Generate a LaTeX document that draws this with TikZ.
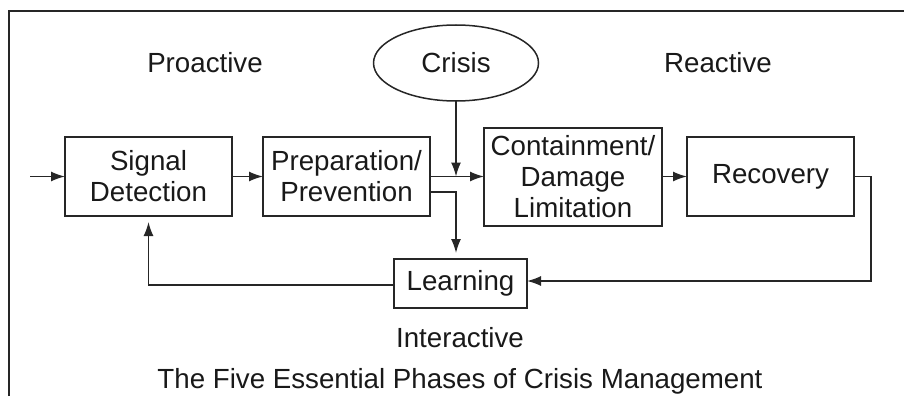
\documentclass[tikz,border=0pt]{standalone}
\usepackage{fontspec}
\setmainfont{Liberation Sans}
\usetikzlibrary{arrows.meta,shapes.geometric,calc}
\begin{document}
\begin{tikzpicture}[x=1pt,y=-1pt,
  line width=1.5pt, draw=black!85,
  every node/.style={font=\fontsize{27.7}{31}\selectfont, text=black!90, inner sep=0pt, outer sep=0pt},
  phase/.style={draw, rectangle, align=center, minimum width=167pt, minimum height=79pt},
  arr/.style={-{Latex[length=14pt,width=10pt]}},
  lbl/.style={anchor=base}]
\useasboundingbox (0,0) rectangle (904,396);
\draw (9,396) -- (9,11) -- (904,11);

\node[lbl] (pro) at (205,73) {Proactive};
\node[lbl] (rea) at (718,73) {Reactive};
\node[draw, ellipse, minimum width=165pt, minimum height=76pt] (cr) at (456,63) {Crisis};

\node[phase] (sd) at (148.5,176.5) {Signal\\Detection};
\node[phase] (pp) at (346.5,176.5) {Preparation/\\Prevention};
\node[phase, minimum width=178pt, minimum height=98pt] (cd) at (573,177) {Containment/\\Damage\\Limitation};
\node[phase] (rc) at (770.5,176.5) {Recovery};
\node[phase, minimum width=133pt, minimum height=49pt] (ln) at (460.5,283.5) {Learning};

\node[lbl] (int) at (460,347) {Interactive};
\node[lbl] (ttl) at (460,388) {The Five Essential Phases of Crisis Management};

\coordinate (in) at (30,176.5);
\draw[arr] (in) -- (sd.west);
\draw[arr] (sd) -- (pp);
\draw[arr] (pp.east) -- (cd.west |- pp.east);
\draw[arr] (cd.east |- rc.west) -- (rc.west);
\draw[arr] (cr.south) -- (cr.south |- pp.east);
\draw[arr, shorten >=6pt] ($(pp.east)+(0,15.5)$) -| (ln.north -| cr.south);
\coordinate (rr) at (871,281);
\draw[arr] (rc.east) -| (rr) -- (ln.east |- rr);
\coordinate (ll) at (148.5,285);
\draw[arr, shorten >=6pt] (ln.west |- ll) -| (sd.south);
\end{tikzpicture}
\end{document}
